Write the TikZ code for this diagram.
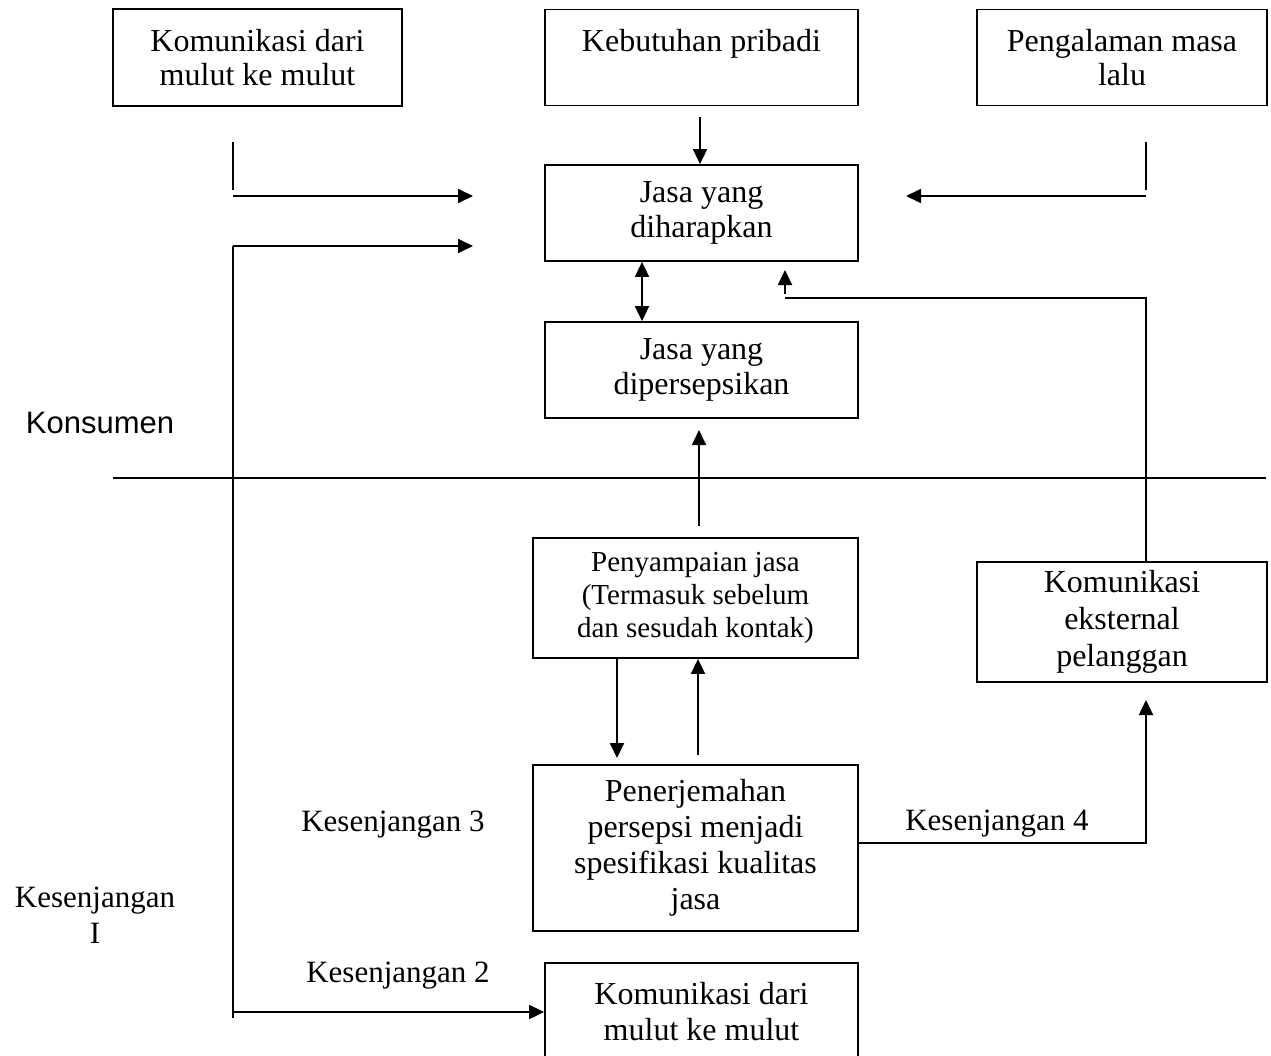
\documentclass[tikz,border=0pt]{standalone}
\usepackage{fontspec}
\setmainfont{Liberation Serif}
\newfontfamily\arialfont{Liberation Sans}
\usetikzlibrary{arrows.meta}
\begin{document}
\begin{tikzpicture}[x=1pt,y=-1pt,line width=1.8pt,
  box/.style={draw,line width=1.8pt,inner sep=0pt,align=center},
  tip/.style={-{Triangle[length=15pt,width=14pt]}},
  dtip/.style={{Triangle[length=15pt,width=14pt]}-{Triangle[length=15pt,width=14pt]}},
  fA/.style={font=\fontsize{32}{34}\selectfont},
  fJ/.style={font=\fontsize{32}{35}\selectfont},
  fS/.style={font=\fontsize{29}{33}\selectfont},
  fE/.style={font=\fontsize{32}{37}\selectfont},
  fT/.style={font=\fontsize{32}{36}\selectfont},
  lab/.style={font=\fontsize{31}{36}\selectfont,align=center,inner sep=0pt}]
\useasboundingbox (0,0) rectangle (1271,1055);
\clip (0,0) rectangle (1271,1055);

% boxes
\node[box,fA,minimum width=289pt,minimum height=97pt] (kom1) at (257.5,57.5) {Komunikasi dari\\mulut ke mulut};
\node[box,fA,minimum width=313pt,minimum height=96pt] (keb) at (701.5,57.5) {Kebutuhan pribadi\\\mbox{}};
\node[box,fA,minimum width=290pt,minimum height=96pt] (png) at (1122,57.5) {Pengalaman masa\\lalu};
\node[box,fJ,minimum width=313pt,minimum height=96pt] (harap) at (701.5,213) {Jasa yang\\diharapkan};
\node[box,fJ,minimum width=313pt,minimum height=96pt] (persep) at (701.5,370) {Jasa yang\\dipersepsikan};
\node[box,fS,minimum width=325pt,minimum height=120pt] (sampai) at (695.5,598) {Penyampaian jasa\\(Termasuk sebelum\\dan sesudah kontak)};
\node[box,fE,minimum width=290pt,minimum height=120pt] (eks) at (1122,622) {Komunikasi\\eksternal\\pelanggan};
\node[box,fT,minimum width=325pt,minimum height=166pt] (terj) at (695.5,848) {Penerjemahan\\persepsi menjadi\\spesifikasi kualitas\\jasa};
\node[box,fT,minimum width=313pt,minimum height=98pt] (kom2) at (701.5,1012) {Komunikasi dari\\mulut ke mulut};

% labels
\node[font=\arialfont\fontsize{31}{34}\selectfont,inner sep=0pt] (kons) at (100,423) {Konsumen};
\node[lab] (k3) at (393,825) {Kesenjangan 3};
\node[lab] (k4) at (997,824) {Kesenjangan 4};
\node[lab] (k2) at (398,976) {Kesenjangan 2};
\node[lab] (k1) at (95,915) {Kesenjangan\\I};

% coordinates
\coordinate (la) at (233,142);
\coordinate (lb) at (233,190);
\coordinate (lc) at (233,196);
\coordinate (ld) at (473,196);
\coordinate (le) at (233,246);
\coordinate (lf) at (473,246);
\coordinate (lg) at (233,1018);
\coordinate (lh) at (233,1012);
\coordinate (ra) at (1146,142);
\coordinate (rb) at (1146,190);
\coordinate (rc) at (1146,196);
\coordinate (rd) at (906,196);
\coordinate (kebs) at (700,117);
\coordinate (dbl) at (642,0);
\coordinate (pu) at (699,526);
\coordinate (pt) at (699,430);
\coordinate (ea) at (1146,298);
\coordinate (eb) at (785,298);
\coordinate (ec) at (785,294);
\coordinate (ed) at (785,270);
\coordinate (sd) at (617,758);
\coordinate (su) at (698,755);
\coordinate (ta) at (1146,843);
\coordinate (tb) at (1146,700);
\coordinate (hl) at (113,478);
\coordinate (hr) at (1266,478);

% connectors
\draw (la) -- (lb);
\draw[tip] (lc) -- (ld);
\draw[tip] (rc) -- (rd);
\draw (ra) -- (rb);
\draw[tip] (le) -- (lf);
\draw (le) -- (lg);
\draw[tip] (lh) -- (kom2.west |- lh);
\draw[tip] (kebs) -- (harap.north -| kebs);
\draw[dtip] (harap.south -| dbl) -- (persep.north -| dbl);
\draw[tip] (pu) -- (pt);
\draw (eks.north -| ea) -- (ea) -- (eb);
\draw[tip] (ec) -- (ed);
\draw[tip] (sampai.south -| sd) -- (sd);
\draw[tip] (su) -- (sampai.south -| su);
\draw[tip] (terj.east |- ta) -- (ta) -- (tb);
\draw (hl) -- (hr);
\end{tikzpicture}
\end{document}
